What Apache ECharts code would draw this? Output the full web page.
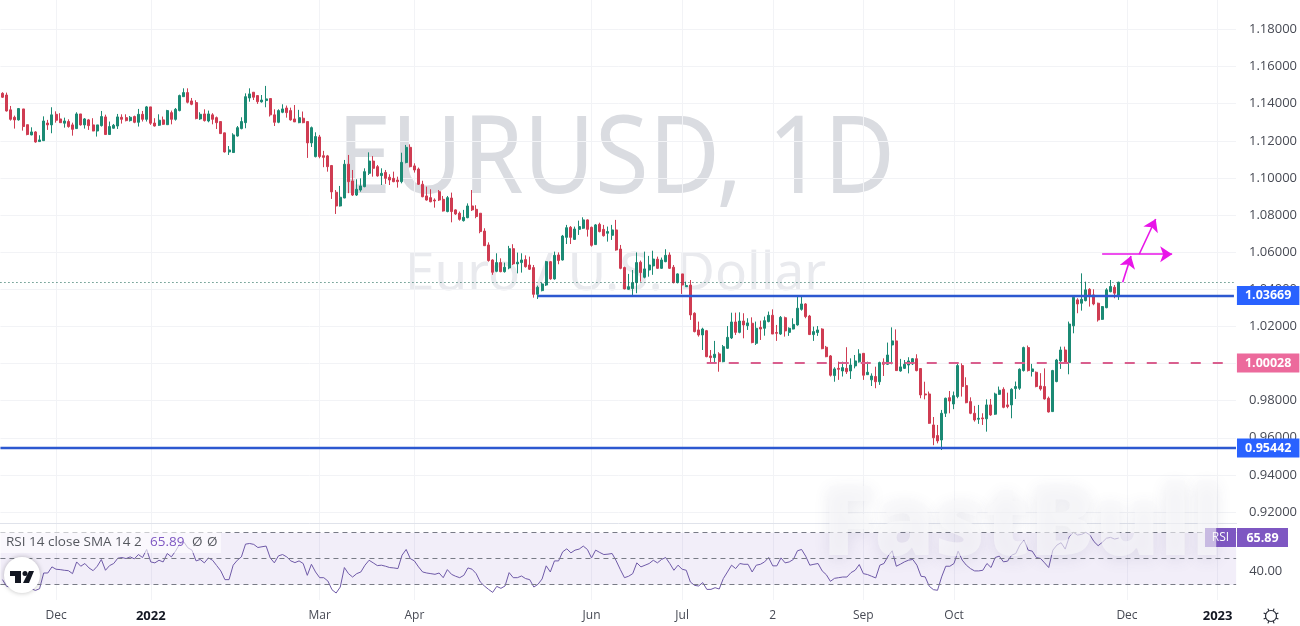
<!DOCTYPE html>
<html>
<head>
<meta charset="utf-8">
<title>EURUSD, 1D</title>
<style>
  html, body { margin: 0; padding: 0; background: #fff; }
  #app { width: 1300px; height: 626px; }
</style>
</head>
<body>
<div id="app"></div>
<script src="https://cdn.jsdelivr.net/npm/echarts@6/dist/echarts.min.js"></script>
<script>
var opens = [
  1.1456,1.1447,1.1367,1.1327,1.1313,1.1372,1.1287,1.1232,1.1248,1.1196,
  1.1201,1.1296,1.1286,1.1343,1.1318,1.1295,1.1304,1.1286,1.1266,1.1345,
  1.1286,1.1313,1.1286,1.1253,1.1282,1.1329,1.1234,1.1268,1.1280,1.1327,
  1.1325,1.1309,1.1331,1.1300,1.1343,1.1316,1.1383,1.1296,1.1284,1.1313,
  1.1287,1.1352,1.1316,1.1363,1.1438,1.1460,1.1415,1.1406,1.1318,1.1345,
  1.1307,1.1340,1.1325,1.1304,1.1243,1.1140,1.1137,1.1226,1.1266,1.1298,
  1.1431,1.1462,1.1444,1.1410,1.1417,1.1428,1.1340,1.1300,1.1354,1.1377,
  1.1363,1.1318,1.1298,1.1322,1.1304,1.1189,1.1115,1.1221,1.1120,1.1119,
  1.1067,1.0923,1.0849,1.0892,1.1074,1.0984,1.0908,1.0935,1.0953,1.1025,
  1.1091,1.1061,1.1013,1.1030,1.1004,1.0998,1.0989,1.0980,1.1083,1.1165,
  1.1065,1.1048,1.0966,1.0903,1.0894,1.0881,1.0926,1.0885,1.0819,1.0892,
  1.0828,1.0810,1.0770,1.0786,1.0849,1.0831,1.0810,1.0714,1.0639,1.0558,
  1.0497,1.0544,1.0495,1.0515,1.0619,1.0537,1.0544,1.0560,1.0531,1.0517,
  1.0373,1.0393,1.0423,1.0549,1.0456,1.0585,1.0558,1.0680,1.0734,1.0669,
  1.0723,1.0729,1.0774,1.0734,1.0641,1.0750,1.0723,1.0702,1.0691,1.0720,
  1.0617,1.0517,1.0400,1.0404,1.0436,1.0546,1.0465,1.0504,1.0526,1.0562,
  1.0513,1.0549,1.0585,1.0519,1.0436,1.0483,1.0414,1.0423,1.0271,1.0181,
  1.0154,1.0177,1.0041,1.0032,1.0052,1.0010,1.0082,1.0138,1.0224,1.0168,
  1.0229,1.0204,1.0217,1.0109,1.0195,1.0190,1.0226,1.0260,1.0167,1.0159,
  1.0247,1.0168,1.0186,1.0208,1.0292,1.0321,1.0256,1.0156,1.0167,1.0186,
  1.0088,1.0041,0.9935,0.9974,0.9960,0.9974,0.9960,0.9987,1.0009,1.0055,
  0.9940,0.9912,0.9930,0.9902,1.0007,0.9996,1.0100,1.0122,0.9960,0.9974,
  0.9992,0.9998,1.0026,0.9973,0.9836,0.9836,0.9669,0.9612,0.9588,0.9732,
  0.9816,0.9782,0.9822,0.9989,0.9881,0.9795,0.9732,0.9700,0.9707,0.9702,
  0.9777,0.9727,0.9834,0.9861,0.9777,0.9777,0.9865,0.9867,0.9962,1.0086,
  0.9957,0.9953,0.9879,0.9876,0.9813,0.9741,0.9903,1.0014,1.0073,1.0005,
  1.0203,1.0343,1.0325,1.0339,1.0400,1.0370,1.0325,1.0238,1.0301,1.0387,
  1.0411,1.0366
];
var closes = [
  1.1435,1.1361,1.1316,1.1313,1.1374,1.1277,1.1234,1.1248,1.1194,1.1205,
  1.1307,1.1286,1.1340,1.1311,1.1298,1.1307,1.1277,1.1262,1.1345,1.1286,
  1.1318,1.1282,1.1253,1.1286,1.1331,1.1234,1.1277,1.1284,1.1329,1.1316,
  1.1309,1.1327,1.1300,1.1343,1.1316,1.1383,1.1295,1.1280,1.1311,1.1289,
  1.1363,1.1316,1.1370,1.1444,1.1460,1.1408,1.1397,1.1320,1.1343,1.1309,
  1.1345,1.1316,1.1298,1.1239,1.1140,1.1151,1.1232,1.1271,1.1304,1.1438,
  1.1453,1.1435,1.1411,1.1420,1.1426,1.1340,1.1300,1.1363,1.1372,1.1352,
  1.1313,1.1302,1.1325,1.1298,1.1189,1.1271,1.1223,1.1115,1.1111,1.1061,
  1.0925,1.0849,1.0896,1.1074,1.0980,1.0908,1.0939,1.0957,1.1034,1.1091,
  1.1052,1.1011,1.1025,1.0998,1.0989,1.0980,1.0980,1.1084,1.1165,1.1061,
  1.1043,1.0966,1.0899,1.0881,1.0872,1.0876,1.0881,1.0822,1.0894,1.0819,
  1.0806,1.0777,1.0788,1.0849,1.0828,1.0792,1.0711,1.0635,1.0555,1.0492,
  1.0544,1.0495,1.0519,1.0619,1.0537,1.0546,1.0558,1.0522,1.0508,1.0373,
  1.0411,1.0429,1.0549,1.0456,1.0583,1.0555,1.0687,1.0732,1.0680,1.0725,
  1.0738,1.0774,1.0723,1.0637,1.0747,1.0711,1.0689,1.0711,1.0720,1.0612,
  1.0513,1.0402,1.0414,1.0436,1.0544,1.0490,1.0510,1.0531,1.0563,1.0513,
  1.0558,1.0583,1.0513,1.0436,1.0483,1.0423,1.0420,1.0262,1.0172,1.0154,
  1.0186,1.0037,1.0032,1.0050,1.0010,1.0091,1.0141,1.0224,1.0168,1.0229,
  1.0208,1.0219,1.0113,1.0190,1.0186,1.0231,1.0260,1.0159,1.0163,1.0249,
  1.0176,1.0190,1.0211,1.0298,1.0321,1.0253,1.0156,1.0172,1.0181,1.0080,
  1.0037,0.9937,0.9971,0.9969,0.9978,0.9956,0.9992,1.0014,1.0052,0.9937,
  0.9953,0.9933,0.9902,1.0005,0.9996,1.0046,1.0122,0.9962,0.9982,0.9996,
  1.0014,1.0026,0.9962,0.9831,0.9831,0.9678,0.9600,0.9583,0.9732,0.9813,
  0.9798,0.9827,0.9989,0.9876,0.9789,0.9732,0.9696,0.9705,0.9702,0.9777,
  0.9723,0.9836,0.9856,0.9764,0.9768,0.9861,0.9876,0.9969,1.0086,0.9962,
  0.9971,0.9876,0.9863,0.9809,0.9739,0.9962,1.0019,1.0073,1.0001,1.0213,
  1.0357,1.0321,1.0346,1.0397,1.0361,1.0321,1.0235,1.0307,1.0397,1.0415,
  1.0379,1.0438
];
var lows = [
  1.1431,1.1358,1.1309,1.1266,1.1309,1.1255,1.1230,1.1230,1.1190,1.1194,
  1.1201,1.1259,1.1241,1.1298,1.1296,1.1271,1.1271,1.1228,1.1264,1.1282,
  1.1266,1.1259,1.1252,1.1223,1.1277,1.1232,1.1232,1.1266,1.1264,1.1293,
  1.1305,1.1304,1.1295,1.1277,1.1304,1.1304,1.1286,1.1277,1.1280,1.1286,
  1.1286,1.1289,1.1309,1.1359,1.1438,1.1402,1.1392,1.1316,1.1313,1.1304,
  1.1300,1.1289,1.1264,1.1237,1.1137,1.1124,1.1135,1.1223,1.1262,1.1268,
  1.1411,1.1420,1.1399,1.1406,1.1381,1.1331,1.1280,1.1295,1.1349,1.1325,
  1.1309,1.1302,1.1295,1.1295,1.1108,1.1167,1.1111,1.1106,1.1058,1.1034,
  1.0887,1.0806,1.0846,1.0891,1.0918,1.0903,1.0903,1.0926,1.0950,1.1016,
  1.1007,1.1007,1.0962,1.0968,1.0962,1.0977,1.0948,1.0971,1.1079,1.1057,
  1.1029,1.0962,1.0896,1.0878,1.0869,1.0840,1.0876,1.0819,1.0815,1.0761,
  1.0801,1.0770,1.0765,1.0783,1.0822,1.0783,1.0702,1.0634,1.0549,1.0478,
  1.0492,1.0492,1.0490,1.0508,1.0531,1.0486,1.0490,1.0517,1.0504,1.0355,
  1.0348,1.0389,1.0418,1.0452,1.0452,1.0535,1.0555,1.0644,1.0644,1.0666,
  1.0693,1.0725,1.0684,1.0630,1.0639,1.0707,1.0684,1.0657,1.0666,1.0608,
  1.0508,1.0400,1.0397,1.0360,1.0379,1.0441,1.0459,1.0468,1.0478,1.0510,
  1.0510,1.0546,1.0510,1.0432,1.0432,1.0375,1.0414,1.0235,1.0168,1.0145,
  1.0073,1.0034,1.0005,1.0001,0.9956,1.0007,1.0079,1.0132,1.0154,1.0163,
  1.0136,1.0181,1.0109,1.0100,1.0127,1.0150,1.0222,1.0159,1.0122,1.0154,
  1.0145,1.0149,1.0184,1.0204,1.0285,1.0244,1.0154,1.0122,1.0149,1.0077,
  1.0034,0.9930,0.9902,0.9912,0.9930,0.9944,0.9917,0.9974,1.0005,0.9912,
  0.9939,0.9879,0.9867,0.9885,0.9933,0.9992,0.9996,0.9960,0.9956,0.9971,
  0.9947,0.9992,0.9958,0.9813,0.9807,0.9675,0.9560,0.9570,0.9534,0.9712,
  0.9732,0.9754,0.9813,0.9822,0.9786,0.9727,0.9687,0.9675,0.9669,0.9633,
  0.9718,0.9723,0.9831,0.9759,0.9759,0.9705,0.9809,0.9858,0.9957,0.9957,
  0.9930,0.9872,0.9854,0.9806,0.9736,0.9739,0.9899,0.9971,0.9998,0.9942,
  1.0163,1.0271,1.0285,1.0335,1.0307,1.0314,1.0226,1.0235,1.0298,1.0384,
  1.0352,1.0343
];
var highs = [
  1.1462,1.1460,1.1388,1.1336,1.1377,1.1372,1.1287,1.1273,1.1252,1.1230,
  1.1332,1.1313,1.1381,1.1359,1.1349,1.1325,1.1316,1.1298,1.1354,1.1345,
  1.1323,1.1318,1.1322,1.1286,1.1361,1.1341,1.1304,1.1291,1.1345,1.1343,
  1.1343,1.1334,1.1336,1.1372,1.1361,1.1388,1.1383,1.1322,1.1343,1.1331,
  1.1367,1.1363,1.1377,1.1449,1.1483,1.1483,1.1431,1.1419,1.1354,1.1370,
  1.1363,1.1349,1.1331,1.1304,1.1244,1.1172,1.1241,1.1280,1.1327,1.1456,
  1.1483,1.1462,1.1447,1.1447,1.1496,1.1428,1.1370,1.1370,1.1397,1.1390,
  1.1379,1.1393,1.1367,1.1358,1.1304,1.1277,1.1246,1.1232,1.1146,1.1124,
  1.1070,1.0935,1.0957,1.1097,1.1124,1.1043,1.0993,1.0998,1.1052,1.1138,
  1.1118,1.1070,1.1052,1.1043,1.1020,1.1034,1.1007,1.1136,1.1178,1.1181,
  1.1079,1.1056,1.0985,1.0953,1.0939,1.0890,1.0935,1.0903,1.0903,1.0921,
  1.0831,1.0819,1.0828,1.0863,1.0935,1.0853,1.0810,1.0729,1.0653,1.0562,
  1.0594,1.0567,1.0544,1.0634,1.0643,1.0598,1.0594,1.0583,1.0576,1.0531,
  1.0420,1.0436,1.0553,1.0553,1.0603,1.0599,1.0693,1.0747,1.0741,1.0738,
  1.0770,1.0788,1.0777,1.0738,1.0752,1.0759,1.0747,1.0738,1.0747,1.0774,
  1.0639,1.0522,1.0483,1.0504,1.0599,1.0555,1.0603,1.0580,1.0608,1.0576,
  1.0571,1.0616,1.0599,1.0531,1.0486,1.0483,1.0441,1.0450,1.0276,1.0226,
  1.0193,1.0181,1.0073,1.0122,1.0061,1.0100,1.0202,1.0274,1.0274,1.0276,
  1.0271,1.0244,1.0249,1.0226,1.0231,1.0253,1.0280,1.0292,1.0208,1.0256,
  1.0253,1.0195,1.0244,1.0364,1.0364,1.0325,1.0262,1.0199,1.0202,1.0190,
  1.0095,1.0046,0.9980,1.0010,1.0010,1.0088,1.0028,1.0046,1.0077,1.0055,
  1.0010,0.9947,0.9983,1.0010,1.0028,1.0113,1.0195,1.0184,1.0025,1.0019,
  1.0034,1.0030,1.0050,0.9973,0.9902,0.9849,0.9712,0.9669,0.9750,0.9816,
  0.9852,0.9849,1.0001,1.0001,0.9926,0.9818,0.9772,0.9777,0.9732,0.9807,
  0.9809,0.9843,0.9876,0.9872,0.9843,0.9867,0.9903,0.9974,1.0091,1.0097,
  0.9998,0.9957,0.9948,0.9974,0.9822,0.9966,1.0025,1.0091,1.0091,1.0226,
  1.0361,1.0352,1.0486,1.0441,1.0406,1.0400,1.0328,1.0310,1.0406,1.0450,
  1.0423,1.0441
];
var rsiValues = [
  33.9,28.7,28.2,26.9,32.1,29.5,26.9,26.9,25.6,26.9,
  39.0,39.0,43.7,41.9,41.6,41.1,40.8,38.5,47.5,44.2,
  46.3,42.9,40.8,44.2,49.4,41.1,44.7,46.3,50.4,50.9,
  50.1,51.4,49.9,53.2,50.9,57.1,47.5,46.8,48.8,47.5,
  54.0,51.4,55.8,61.2,63.0,58.4,56.6,48.3,49.4,46.8,
  50.6,48.8,44.7,40.6,33.9,33.9,45.0,48.8,51.4,61.2,
  61.7,61.0,58.6,59.2,59.7,50.6,46.8,52.2,53.2,51.4,
  48.3,47.0,48.3,46.3,37.2,45.7,39.8,35.4,35.4,32.8,
  26.1,23.6,28.2,43.2,38.5,35.9,38.5,39.8,45.0,48.8,
  46.8,44.7,45.0,44.2,43.2,42.9,42.4,52.7,57.1,50.1,
  48.3,43.7,39.8,39.0,38.5,38.0,39.0,35.4,41.6,38.0,
  36.5,35.4,37.2,42.9,41.9,38.5,32.1,29.0,26.4,24.1,
  28.7,27.2,29.0,39.3,35.4,35.4,36.7,34.7,33.9,28.2,
  30.3,34.4,44.5,39.8,48.3,48.3,55.3,57.6,54.5,56.6,
  57.4,59.7,57.1,50.6,56.6,54.8,53.2,53.5,54.0,48.3,
  41.6,35.4,36.5,38.5,46.8,43.7,45.0,46.3,48.8,46.8,
  49.4,50.9,46.3,41.1,45.0,41.9,41.1,32.1,29.5,29.0,
  31.6,26.4,26.4,27.7,26.7,34.7,39.8,45.0,42.4,46.3,
  45.7,45.7,39.8,45.0,45.7,47.5,50.9,44.5,44.5,50.6,
  46.8,47.5,49.4,56.1,57.1,51.9,45.0,45.7,46.3,40.6,
  37.7,32.6,34.9,35.4,35.9,35.9,39.3,41.1,45.5,38.5,
  37.8,36.5,35.2,45.0,46.3,52.0,56.1,44.2,45.8,47.6,
  48.9,49.4,45.0,36.5,36.0,28.8,26.2,25.7,36.0,44.2,
  44.2,46.3,55.8,48.9,45.0,42.4,40.6,40.6,41.1,46.3,
  43.2,50.9,52.0,47.6,48.1,52.7,54.0,60.5,64.4,56.6,
  55.8,50.9,50.2,46.8,43.2,56.6,60.5,62.3,57.4,66.9,
  70.3,68.2,68.7,70.3,68.2,63.1,60.0,62.6,65.7,66.4,
  65.1,65.89
];
var tickDates = ["2021-12-01","2022-01-03","2022-03-01","2022-04-01","2022-06-01","2022-07-01","2022-08-02","2022-09-01","2022-10-03","2022-12-01","2023-01-02"];
var tickLabels = ["Dec","2022","Mar","Apr","Jun","Jul","2","Sep","Oct","Dec","2023"];
var rsiLevels = [70, 50, 30];
var supportHigh = 1.03669;
var supportMid = 1.00028;
var supportLow = 0.95442;

// trading days, weekends left out, room for the empty bars on the right
var categories = [];
var missingDays = ["2022-11-24"];
var day = new Date(Date.UTC(2021, 10, 12));
while (categories.length < 300) {
  var wd = day.getUTCDay();
  var str = day.toISOString().slice(0, 10);
  if (wd !== 0 && wd !== 6 && missingDays.indexOf(str) < 0) categories.push(str);
  day.setUTCDate(day.getUTCDate() + 1);
}

var candles = opens.map(function (o, i) {
  return [o, closes[i], lows[i], highs[i]];
});
var lastBar = categories.length - 1;
var lastClose = closes[closes.length - 1];
var lastRsi = rsiValues[rsiValues.length - 1];

var textFont = "'Open Sans', 'DejaVu Sans', sans-serif";
var axisText = "#474a54";
var gridColor = "#f2f3f6";
var blueLine = { color: "#2c58d0", type: "solid", width: 2.4 };
var chartLeft = 0.44;
var chartWidth = 1235.7;

function priceChip(color, price, dist) {
  return {
    show: true,
    position: "end",
    distance: dist,
    formatter: price.toFixed(5),
    color: "#fff",
    fontFamily: textFont,
    fontSize: 12.5,
    fontWeight: "bold",
    backgroundColor: color,
    padding: [3, 8, 3, 8]
  };
}

var myChart = echarts.init(document.getElementById("app"), null, { renderer: "canvas" });

var graphics = [
  { type: "text", z: 0, silent: true, x: 337, y: 216.5, scaleX: 0.905, style: { x: 0, y: 0, text: "EURUSD, 1D", fill: "#dadce1", font: "400 108px 'Noto Sans', sans-serif", textVerticalAlign: "bottom" } },
  { type: "text", z: 0, silent: true, style: { x: 405, y: 301, text: "Euro / U.S. Dollar", fill: "#e9eaee", font: "400 53px 'Noto Sans', sans-serif", textVerticalAlign: "bottom" } },
  { type: "line", z: 1, silent: true, shape: { x1: 0, y1: 523.5, x2: 1237, y2: 523.5 }, style: { stroke: "#e0e3eb", lineWidth: 1 } },
  // rsi legend
  { type: "rect", z: 50, silent: true, shape: { x: 0, y: 532, width: 221, height: 21 }, style: { fill: "rgba(255,255,255,0.6)" } },
  { type: "text", z: 51, silent: true, style: { x: 6, y: 542, text: "RSI 14 close SMA 14 2", fill: "#55585f", font: "400 13.5px " + textFont, textVerticalAlign: "middle" } },
  { type: "text", z: 51, silent: true, style: { x: 150, y: 542, text: String(lastRsi), fill: "#7e57c2", font: "400 13.5px " + textFont, textVerticalAlign: "middle" } },
  { type: "text", z: 51, silent: true, style: { x: 192, y: 542, text: "\u00d8", fill: "#55585f", font: "400 13.5px " + textFont, textVerticalAlign: "middle" } },
  { type: "text", z: 51, silent: true, style: { x: 207, y: 542, text: "\u00d8", fill: "#55585f", font: "400 13.5px " + textFont, textVerticalAlign: "middle" } },
  // rsi chips
  { type: "rect", z: 50, silent: true, shape: { x: 1205, y: 528, width: 31, height: 19 }, style: { fill: "#7e57c2" } },
  { type: "text", z: 51, silent: true, style: { x: 1220.5, y: 538, text: "RSI", fill: "#fff", font: "400 12px " + textFont, textAlign: "center", textVerticalAlign: "middle" } },
  { type: "rect", z: 50, silent: true, shape: { x: 1237, y: 528, width: 51, height: 19 }, style: { fill: "#7e57c2" } },
  { type: "text", z: 51, silent: true, style: { x: 1262.5, y: 538, text: lastRsi.toFixed(2), fill: "#fff", font: "700 12.5px " + textFont, textAlign: "center", textVerticalAlign: "middle" } },
  // logo
  { type: "circle", z: 60, silent: true, shape: { cx: 22, cy: 575, r: 18 }, style: { fill: "#fff", shadowBlur: 5, shadowColor: "rgba(0,0,0,0.25)" } },
  { type: "polygon", z: 61, silent: true, shape: { points: [[10, 571], [21, 571], [21, 583], [15, 583], [15, 576], [10, 576]] }, style: { fill: "#131722" } },
  { type: "circle", z: 61, silent: true, shape: { cx: 25, cy: 573.5, r: 2.5 }, style: { fill: "#131722" } },
  { type: "polygon", z: 61, silent: true, shape: { points: [[29, 571], [34, 571], [29, 583], [23, 583]] }, style: { fill: "#131722" } },
  // fastbull stamp
  { type: "text", z: 100, silent: true, style: { x: 822, y: 527, text: "FastBull", fill: "rgba(248,248,250,0.62)", font: "800 97px 'Open Sans', sans-serif", textVerticalAlign: "middle", textShadowBlur: 16, textShadowColor: "rgba(70,70,110,0.18)", textShadowOffsetY: 4 } },
  // settings icon
  { type: "circle", z: 10, silent: true, shape: { cx: 1271, cy: 616, r: 5.5 }, style: { fill: "none", stroke: "#2a2e39", lineWidth: 1.2 } }
];
for (var a = 0; a < 8; a++) {
  var ang = a * Math.PI / 4 + Math.PI / 8;
  graphics.push({
    type: "line", z: 10, silent: true,
    shape: {
      x1: 1271 + Math.cos(ang) * 5.5, y1: 616 + Math.sin(ang) * 5.5,
      x2: 1271 + Math.cos(ang) * 8, y2: 616 + Math.sin(ang) * 8
    },
    style: { stroke: "#2a2e39", lineWidth: 1.2 }
  });
}

function gridAt(top, height) {
  return { left: chartLeft, width: chartWidth, top: top, height: height, containLabel: false };
}

var option = {
  animation: false,
  backgroundColor: "#fff",
  graphic: graphics,
  grid: [gridAt(0, 600), gridAt(29.5, 482.5), gridAt(519.7, 78)],
  xAxis: [
    {
      type: "category",
      gridIndex: 0,
      data: categories,
      axisLine: { show: false },
      axisTick: { show: false },
      axisLabel: {
        margin: 10,
        fontSize: 12,
        fontFamily: textFont,
        color: axisText,
        interval: function (i, v) { return tickDates.indexOf(v) >= 0; },
        formatter: function (v) {
          var lab = tickLabels[tickDates.indexOf(v)];
          return lab.length === 4 ? "{y|" + lab + "}" : lab;
        },
        rich: { y: { fontSize: 13, fontWeight: "bold", color: "#131722", fontFamily: textFont } }
      },
      splitLine: {
        show: true,
        alignWithLabel: true,
        interval: function (i, v) { return tickDates.indexOf(v) >= 0; },
        lineStyle: { color: gridColor, width: 1 }
      }
    },
    { type: "category", gridIndex: 1, data: categories, show: false },
    { type: "category", gridIndex: 2, data: categories, show: false }
  ],
  yAxis: [
    { type: "value", gridIndex: 0, show: false, min: 0, max: 1, splitLine: { show: false } },
    {
      type: "value",
      gridIndex: 1,
      position: "right",
      min: 0.92,
      max: 1.18,
      interval: 0.02,
      axisLine: { show: false },
      axisTick: { show: false },
      axisLabel: {
        margin: 13,
        padding: [2, 0, 0, 0],
        fontSize: 13,
        fontFamily: textFont,
        color: axisText,
        formatter: function (v) { return v.toFixed(5); }
      },
      splitLine: { lineStyle: { color: gridColor, width: 1 } }
    },
    {
      type: "value",
      gridIndex: 2,
      position: "right",
      min: 20,
      max: 80,
      interval: 20,
      axisLine: { show: false },
      axisTick: { show: false },
      splitLine: { show: false },
      axisLabel: {
        margin: 13,
        padding: [2, 0, 0, 0],
        fontSize: 13,
        fontFamily: textFont,
        color: axisText,
        formatter: function (v) { return v === 40 ? v.toFixed(2) : ""; }
      }
    }
  ],
  series: [
    {
      type: "candlestick",
      name: "EURUSD",
      xAxisIndex: 1,
      yAxisIndex: 1,
      data: candles,
      barWidth: 2.5,
      itemStyle: {
        color: "#1b8a74",
        color0: "#cf3c52",
        borderColor: "#1b8a74",
        borderColor0: "#cf3c52",
        borderWidth: 1
      },
      markLine: {
        silent: true,
        symbol: "none",
        animation: false,
        precision: 5,
        label: { show: false },
        data: [
          { yAxis: lastClose, lineStyle: { color: "#14614f", type: [1, 3], width: 1 } },
          [
            { coord: [130, supportHigh], lineStyle: blueLine, label: priceChip("#2962ff", supportHigh, 3) },
            { coord: [lastBar, supportHigh] }
          ],
          [
            { coord: [171, supportMid], lineStyle: { color: "#d95f8e", type: [10, 12], width: 2 }, label: priceChip("#ec6a9c", supportMid, 3) },
            { coord: [lastBar, supportMid] }
          ],
          { yAxis: supportLow, lineStyle: blueLine, label: priceChip("#2962ff", supportLow, 1) }
        ]
      }
    },
    {
      type: "line",
      name: "arrows",
      xAxisIndex: 1,
      yAxisIndex: 1,
      data: [],
      markLine: {
        silent: true,
        animation: false,
        symbol: ["none", "arrow"],
        symbolSize: 12,
        label: { show: false },
        lineStyle: { color: "#e815e8", type: "solid", width: 1.6 },
        data: [
          [{ coord: [272, 1.0438] }, { coord: [274, 1.058] }],
          [{ coord: [267, 1.0589] }, { coord: [284, 1.0589] }],
          [{ coord: [276, 1.0589] }, { coord: [280, 1.0779] }]
        ]
      }
    },
    {
      type: "line",
      name: "RSI",
      xAxisIndex: 2,
      yAxisIndex: 2,
      data: rsiValues,
      showSymbol: false,
      clip: false,
      lineStyle: { color: "#6f5aa8", width: 1 },
      markArea: {
        silent: true,
        itemStyle: { color: "rgba(126,87,194,0.1)" },
        data: [[{ yAxis: rsiLevels[2] }, { yAxis: rsiLevels[0] }]]
      },
      markLine: {
        silent: true,
        symbol: "none",
        animation: false,
        label: { show: false },
        lineStyle: { color: "#787b86", type: [5, 4], width: 1 },
        data: rsiLevels.map(function (v) { return { yAxis: v }; })
      }
    }
  ]
};

myChart.setOption(option);
</script>
</body>
</html>
